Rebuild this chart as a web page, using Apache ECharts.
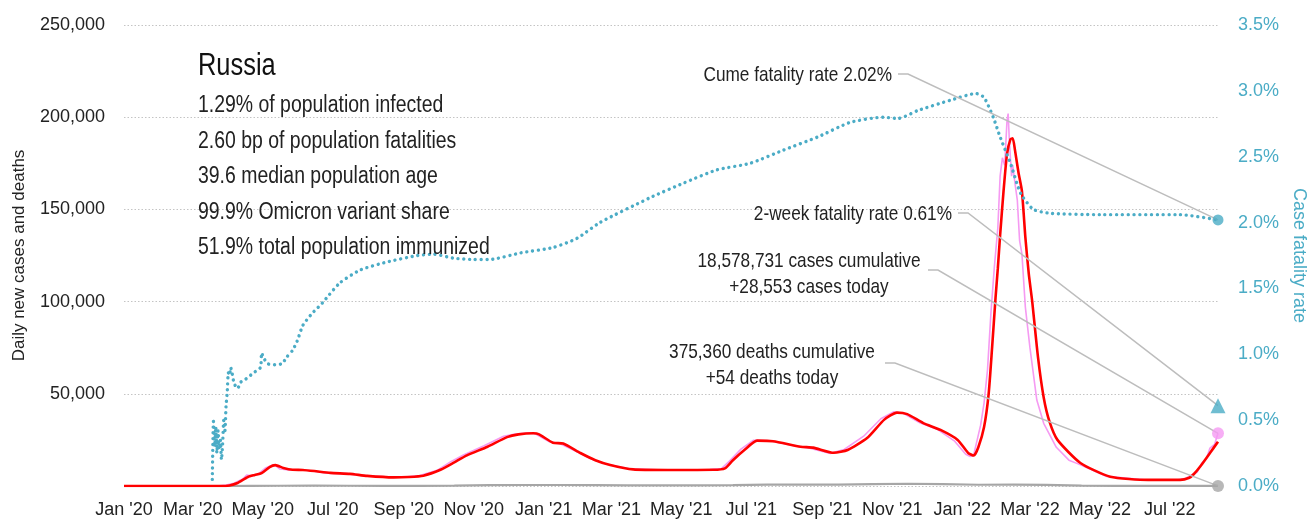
<!DOCTYPE html>
<html>
<head>
<meta charset="utf-8">
<script src="https://cdn.jsdelivr.net/npm/echarts@6/dist/echarts.min.js"></script>
<style>
  html, body { margin: 0; padding: 0; background: #fff; }
  #chart { width: 1312px; height: 522px; }
</style>
</head>
<body>
<div id="chart"></div>
<script>
// ---- Russia COVID-19 data ----
const countryName = 'Russia';
const statLines = [
  '1.29% of population infected',
  '2.60 bp of population fatalities',
  '39.6 median population age',
  '99.9% Omicron variant share',
  '51.9% total population immunized'
];

const xTickDates = ['2020-01-01','2020-03-01','2020-05-01','2020-07-01','2020-09-01','2020-11-01',
  '2021-01-01','2021-03-01','2021-05-01','2021-07-01','2021-09-01','2021-11-01',
  '2022-01-01','2022-03-01','2022-05-01','2022-07-01'];
const monthNames = ['Jan','Feb','Mar','Apr','May','Jun','Jul','Aug','Sep','Oct','Nov','Dec'];

// daily new cases (raw)
const dailyCases = [
  ['2020-01-01',0],['2020-03-22',0],['2020-03-30',500],['2020-04-06',1500],['2020-04-14',4000],['2020-04-17',6000],
  ['2020-04-21',5500],['2020-04-27',6400],['2020-05-03',9600],['2020-05-08',11000],['2020-05-11',11600],['2020-05-16',9200],
  ['2020-05-24',8700],['2020-06-02',8800],['2020-06-12',8300],['2020-06-26',7000],['2020-07-13',6700],['2020-07-28',5600],
  ['2020-08-20',4800],['2020-09-02',4900],['2020-09-15',5700],['2020-09-30',8500],['2020-10-12',13200],['2020-10-23',16800],
  ['2020-11-10',21800],['2020-11-27',27000],['2020-12-07',28200],['2020-12-20',28800],['2020-12-25',28200],['2021-01-06',24000],
  ['2021-01-15',23000],['2021-01-30',18500],['2021-02-12',14500],['2021-02-25',11800],['2021-03-17',9300],['2021-04-16',8600],
  ['2021-05-26',8900],['2021-06-05',9400],['2021-06-12',13500],['2021-06-22',20000],['2021-07-03',24800],['2021-07-17',24500],
  ['2021-08-10',21600],['2021-08-21',20500],['2021-09-08',17700],['2021-09-20',19800],['2021-10-07',27000],['2021-10-22',36500],
  ['2021-11-02',40200],['2021-11-11',39300],['2021-11-25',34300],['2021-12-10',30800],['2021-12-25',24500],['2022-01-04',17200],
  ['2022-01-08',16000],['2022-01-11',17000],['2022-01-14',25000],['2022-01-17',33000],['2022-01-20',45000],['2022-01-23',63000],
  ['2022-01-26',94000],['2022-01-29',119000],['2022-02-01',140000],['2022-02-03',168000],['2022-02-05',178000],['2022-02-07',174000],
  ['2022-02-09',198000],['2022-02-10',202000],['2022-02-11',188000],['2022-02-13',168000],['2022-02-14',174000],['2022-02-16',164000],
  ['2022-02-18',155000],['2022-02-20',133000],['2022-02-22',126000],['2022-02-25',97000],['2022-03-01',75000],['2022-03-07',46600],
  ['2022-03-13',34000],['2022-03-24',21000],['2022-04-04',14000],['2022-04-12',12000],['2022-05-07',5200],['2022-06-09',3400],
  ['2022-07-07',3200],['2022-07-15',4200],['2022-07-20',6000],['2022-07-25',7600],['2022-07-29',12500],['2022-08-02',15000],
  ['2022-08-05',20600],['2022-08-09',22500],['2022-08-12',28553]
];

// 7-day average of new cases
const avgCases = [
  ['2020-01-01',0],['2020-03-25',0],['2020-04-02',300],['2020-04-09',1600],['2020-04-18',4900],['2020-04-24',6000],
  ['2020-04-30',7000],['2020-05-07',10300],['2020-05-12',11300],['2020-05-19',9800],['2020-05-27',8800],['2020-06-05',8700],
  ['2020-06-15',8100],['2020-06-29',7100],['2020-07-16',6600],['2020-07-31',5500],['2020-08-23',4700],['2020-09-05',4900],
  ['2020-09-18',5600],['2020-10-03',8800],['2020-10-15',12800],['2020-10-26',16600],['2020-11-13',21300],['2020-11-30',26500],
  ['2020-12-10',28000],['2020-12-23',28600],['2020-12-28',28000],['2021-01-09',23500],['2021-01-18',23000],['2021-02-02',17900],
  ['2021-02-15',14000],['2021-02-28',11400],['2021-03-20',9000],['2021-04-19',8700],['2021-05-29',8800],['2021-06-08',9600],
  ['2021-06-15',14000],['2021-06-25',19500],['2021-07-06',24600],['2021-07-20',24300],['2021-08-13',21300],['2021-08-24',20800],
  ['2021-09-11',18000],['2021-09-23',19500],['2021-10-10',26000],['2021-10-25',36000],['2021-11-05',39800],['2021-11-14',39000],
  ['2021-11-28',34100],['2021-12-13',30400],['2021-12-28',25000],['2022-01-06',18000],['2022-01-11',16500],['2022-01-15',21000],
  ['2022-01-20',32000],['2022-01-24',50000],['2022-01-27',75000],['2022-01-30',102000],['2022-02-01',118000],['2022-02-03',136000],
  ['2022-02-06',160000],['2022-02-09',180000],['2022-02-12',188000],['2022-02-14',188500],['2022-02-16',182000],['2022-02-19',170000],
  ['2022-02-22',160000],['2022-02-25',135000],['2022-02-28',115000],['2022-03-03',100000],['2022-03-08',70000],['2022-03-13',48000],
  ['2022-03-18',35000],['2022-03-25',25000],['2022-04-14',12500],['2022-05-10',5000],['2022-06-12',3300],['2022-07-10',3300],
  ['2022-07-18',4500],['2022-07-22',6500],['2022-07-28',11000],['2022-08-05',17900],['2022-08-12',24000]
];

// daily deaths
const dailyDeaths = [
  ['2020-01-01',0],['2020-04-01',5],['2020-04-20',60],['2020-05-15',140],['2020-06-15',160],['2020-07-15',140],
  ['2020-08-15',100],['2020-09-15',110],['2020-10-15',250],['2020-11-15',430],['2020-12-15',550],['2021-01-15',530],
  ['2021-02-15',440],['2021-03-15',390],['2021-04-15',370],['2021-05-15',370],['2021-06-15',430],['2021-07-15',770],
  ['2021-08-15',790],['2021-09-15',790],['2021-10-15',1000],['2021-11-15',1220],['2021-12-15',1050],['2022-01-15',690],
  ['2022-02-15',700],['2022-03-15',560],['2022-04-15',250],['2022-05-15',120],['2022-06-15',60],['2022-07-15',40],
  ['2022-08-12',54]
];

// cumulative case fatality rate, percent
const cumeFatalityRate = [
  ['2020-03-18',0.05],['2020-03-19',0.49],['2020-03-20',0.30],['2020-03-21',0.45],['2020-03-22',0.25],['2020-03-23',0.42],
  ['2020-03-24',0.28],['2020-03-25',0.35],['2020-03-26',0.20],['2020-03-27',0.32],['2020-03-28',0.50],['2020-03-29',0.42],
  ['2020-03-30',0.61],['2020-03-31',0.71],['2020-04-01',0.86],['2020-04-02',0.84],['2020-04-03',0.90],['2020-04-04',0.87],
  ['2020-04-06',0.78],['2020-04-09',0.74],['2020-04-12',0.79],['2020-04-16',0.81],['2020-04-23',0.86],['2020-04-29',0.90],
  ['2020-04-30',1.01],['2020-05-02',0.97],['2020-05-05',0.93],['2020-05-09',0.92],['2020-05-13',0.92],['2020-05-18',0.93],
  ['2020-05-22',0.98],['2020-05-27',1.03],['2020-05-31',1.10],['2020-06-05',1.22],['2020-06-13',1.31],['2020-06-22',1.39],
  ['2020-07-07',1.54],['2020-07-25',1.64],['2020-08-17',1.70],['2020-09-13',1.75],['2020-09-27',1.76],['2020-10-14',1.73],
  ['2020-11-01',1.72],['2020-11-15',1.72],['2020-12-12',1.77],['2021-01-09',1.81],['2021-01-30',1.88],['2021-02-19',2.00],
  ['2021-04-04',2.19],['2021-05-03',2.30],['2021-06-01',2.40],['2021-06-30',2.45],['2021-07-29',2.55],['2021-08-28',2.65],
  ['2021-09-25',2.76],['2021-10-24',2.80],['2021-11-06',2.79],['2021-11-23',2.85],['2021-12-22',2.93],['2022-01-13',2.98],
  ['2022-01-20',2.95],['2022-01-28',2.80],['2022-02-03',2.65],['2022-02-12',2.45],['2022-02-21',2.22],['2022-03-04',2.10],
  ['2022-03-19',2.07],['2022-05-01',2.06],['2022-07-10',2.06],['2022-08-12',2.02]
];

// latest figures
const lastDate = '2022-08-12';
const cumeRateNow = 2.02;
const twoWeekRateNow = 0.61;
const casesCumulative = 18578731;
const casesToday = 28553;
const deathsCumulative = 375360;
const deathsToday = 54;

// ---- styling ----
const FONT = '"Liberation Sans", Arial, sans-serif';
const NARROW = 0.82;          // horizontal squeeze for free-standing text
const TEAL = '#4bacc6';
const RED = '#ff0000';
const PINK = '#f59af2';
const GREY = '#a6a6a6';
const INK = '#222222';

function toTime(s) {
  const p = s.split('-').map(Number);
  return new Date(p[0], p[1] - 1, p[2]).getTime();
}
const asPoints = rows => rows.map(r => [toTime(r[0]), r[1]]);
const fmtInt = v => v.toLocaleString('en-US');

const chart = echarts.init(document.getElementById('chart'), null, { renderer: 'canvas' });

const option = {
  animation: false,
  backgroundColor: '#ffffff',
  grid: { left: 124, right: 94, top: 25, bottom: 36, containLabel: false, outerBoundsMode: 'none' },
  xAxis: {
    type: 'value',
    min: toTime('2020-01-01'),
    max: toTime(lastDate),
    axisLine: { show: false },
    axisTick: { show: false },
    splitLine: { show: false },
    axisLabel: {
      customValues: xTickDates.map(toTime),
      showMinLabel: true,
      formatter: v => { const d = new Date(v); return monthNames[d.getMonth()] + " '" + String(d.getFullYear()).slice(2); },
      color: INK, fontFamily: FONT, fontSize: 18, margin: 15
    }
  },
  yAxis: [
    {
      type: 'value', min: 0, max: 250000, interval: 50000,
      position: 'left',
      name: 'Daily new cases and deaths', nameLocation: 'middle', nameGap: 96, nameRotate: 90,
      nameTextStyle: { color: INK, fontFamily: FONT, fontSize: 17 },
      axisLine: { show: false }, axisTick: { show: false },
      axisLabel: { color: INK, fontFamily: FONT, fontSize: 18, margin: 19, showMinLabel: false, formatter: v => fmtInt(v) },
      splitLine: { show: true, lineStyle: { color: '#c4c4c4', type: [1.5, 2], width: 1 } }
    },
    {
      type: 'value', min: 0, max: 3.5, interval: 0.5,
      position: 'right',
      name: 'Case fatality rate', nameLocation: 'middle', nameGap: 72, nameRotate: -90,
      nameTextStyle: { color: TEAL, fontFamily: FONT, fontSize: 18 },
      axisLine: { show: false }, axisTick: { show: false },
      axisLabel: { color: TEAL, fontFamily: FONT, fontSize: 18, margin: 20, formatter: v => v.toFixed(1) + '%' },
      splitLine: { show: false }
    }
  ],
  series: [
    {
      name: 'Deaths', type: 'line', yAxisIndex: 0, data: asPoints(dailyDeaths), showSymbol: false,
      lineStyle: { color: GREY, width: 2.2 }, z: 1, silent: true
    },
    {
      name: 'Daily cases', type: 'line', yAxisIndex: 0, data: asPoints(dailyCases), showSymbol: false,
      lineStyle: { color: PINK, width: 1.6 }, z: 2, silent: true
    },
    {
      name: '7-day average', type: 'line', yAxisIndex: 0, data: asPoints(avgCases), showSymbol: false, smooth: 0.2,
      lineStyle: { color: RED, width: 2.6 }, z: 3, silent: true
    },
    {
      name: 'Cume fatality rate', type: 'line', yAxisIndex: 1, data: asPoints(cumeFatalityRate), showSymbol: false, smooth: 0.2,
      lineStyle: { color: TEAL, width: 3.4, type: [0.01, 5.8], cap: 'round' }, z: 4, silent: true
    },
    // end-point markers
    {
      type: 'scatter', yAxisIndex: 1, data: [[toTime(lastDate), cumeRateNow]], symbol: 'circle', symbolSize: 11,
      itemStyle: { color: TEAL }, z: 6, silent: true
    },
    {
      type: 'scatter', yAxisIndex: 1, data: [[toTime(lastDate), twoWeekRateNow]], symbol: 'triangle', symbolSize: 15,
      itemStyle: { color: TEAL }, z: 6, silent: true
    },
    {
      type: 'scatter', yAxisIndex: 0, data: [[toTime(lastDate), casesToday]], symbol: 'circle', symbolSize: 12,
      itemStyle: { color: PINK }, z: 6, silent: true
    },
    {
      type: 'scatter', yAxisIndex: 0, data: [[toTime(lastDate), deathsToday]], symbol: 'circle', symbolSize: 12,
      itemStyle: { color: GREY }, z: 6, silent: true
    }
  ]
};
chart.setOption(option);

// ---- title block and callouts ----
const tEnd = toTime(lastDate);
const pCume = chart.convertToPixel({ seriesIndex: 4 }, [tEnd, cumeRateNow]);
const pTwoWeek = chart.convertToPixel({ seriesIndex: 5 }, [tEnd, twoWeekRateNow]);
const pCases = chart.convertToPixel({ seriesIndex: 6 }, [tEnd, casesToday]);
const pDeaths = chart.convertToPixel({ seriesIndex: 7 }, [tEnd, deathsToday]);

const graphics = [];
function narrowText(text, x, y, size, align, lineHeight, fill, squeeze) {
  graphics.push({
    type: 'text', x: x, y: y, scaleX: squeeze || NARROW, scaleY: 1, z: 10, silent: true,
    style: { text: text, fill: fill || INK, fontFamily: FONT, fontSize: size, lineHeight: lineHeight || size * 1.2,
             align: align, verticalAlign: 'middle' }
  });
}
narrowText(countryName, 198, 66, 31, 'left', 34, '#111');
statLines.forEach((t, i) => narrowText(t, 198, 106 + i * 35.5, 23, 'left', null, INK, 0.845));

function callout(lines, tx, ty, align, lx, ly, target) {
  narrowText(lines.join('\n'), tx, ty, 21, align, 26);
  graphics.push({
    type: 'polyline', z: 5, silent: true,
    shape: { points: [[lx, ly], [lx + 10, ly], target] },
    style: { stroke: '#bdbdbd', lineWidth: 1.5, fill: null }
  });
}

callout(['Cume fatality rate ' + cumeRateNow.toFixed(2) + '%'], 892, 75, 'right', 898, 74, pCume);
callout(['2-week fatality rate ' + twoWeekRateNow.toFixed(2) + '%'], 952, 214, 'right', 958, 213, pTwoWeek);
callout([fmtInt(casesCumulative) + ' cases cumulative', '+' + fmtInt(casesToday) + ' cases today'], 809, 274, 'center', 928, 270, pCases);
callout([fmtInt(deathsCumulative) + ' deaths cumulative', '+' + fmtInt(deathsToday) + ' deaths today'], 772, 365, 'center', 885, 363, pDeaths);

chart.setOption({ graphic: { elements: graphics } });
</script>
</body>
</html>
